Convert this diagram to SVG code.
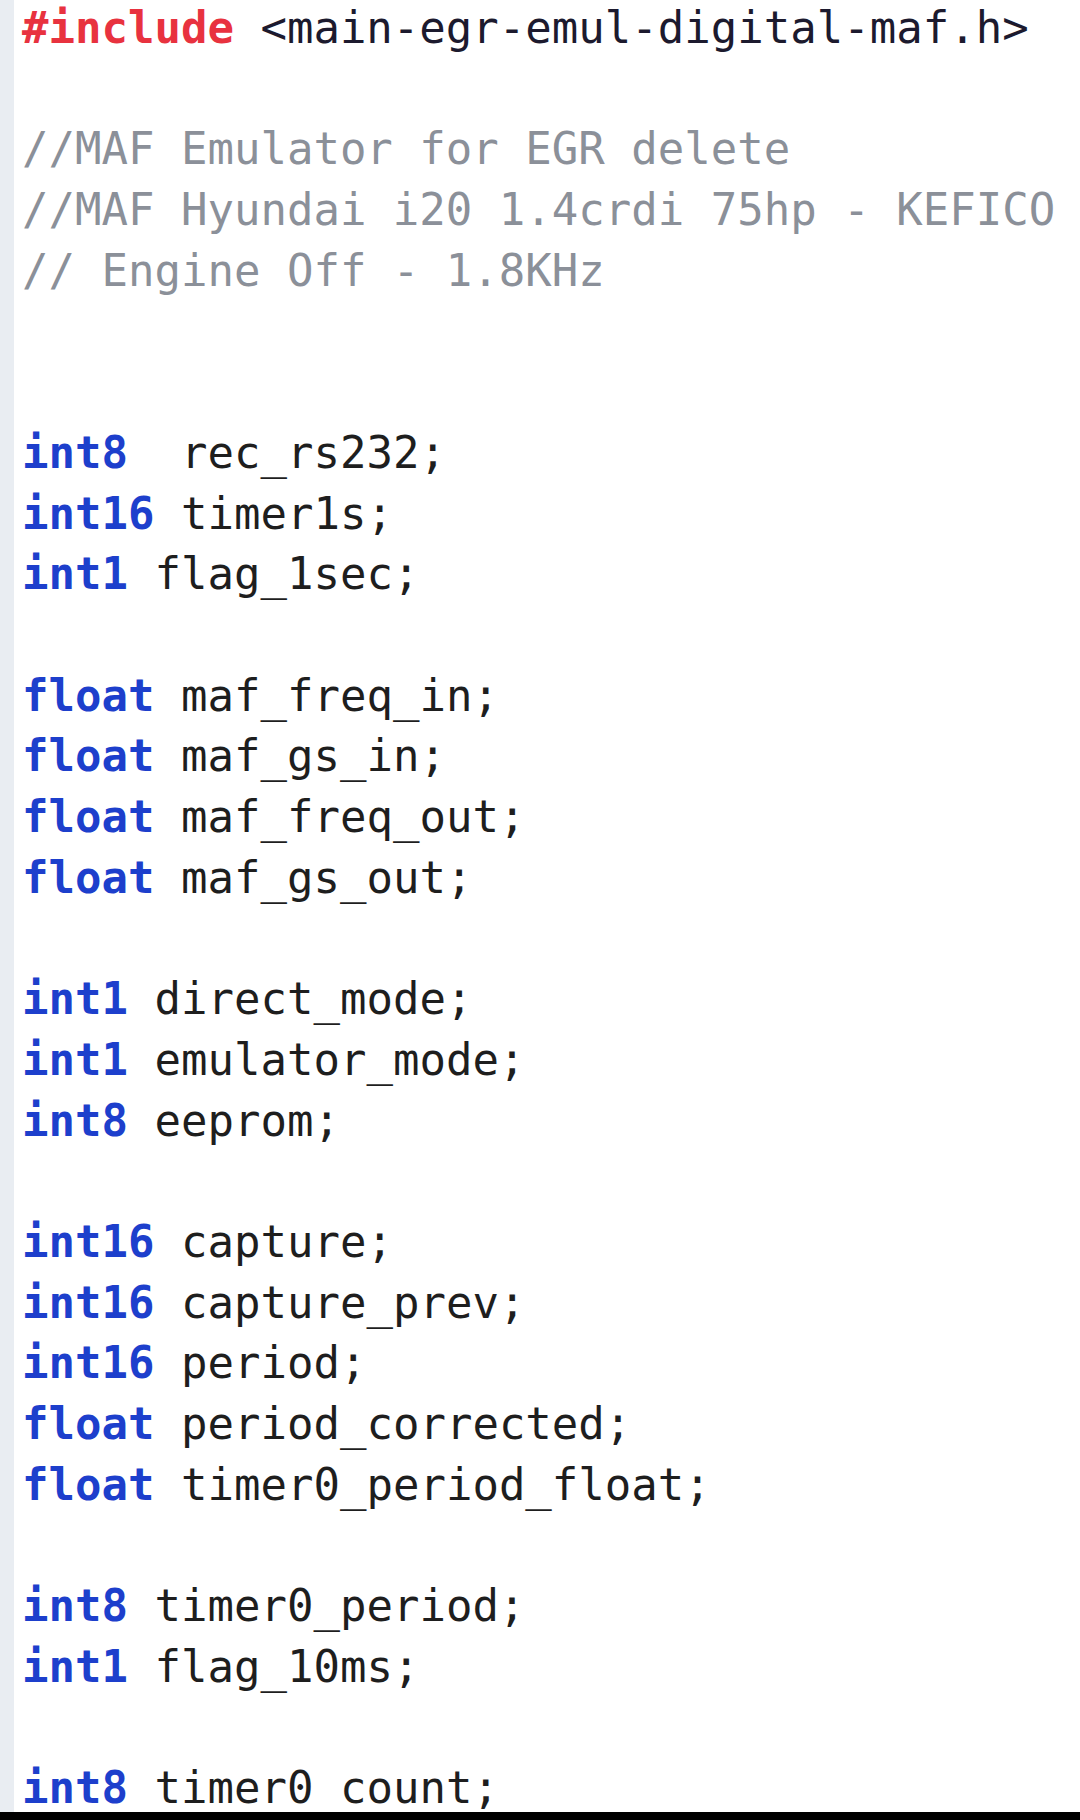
<svg xmlns="http://www.w3.org/2000/svg" width="1080" height="1820" viewBox="0 0 1080 1820">
<style>
text{font-family:"DejaVu Sans Mono","Liberation Mono",monospace;font-size:44px;white-space:pre}
.pp{fill:#e8323f;font-weight:bold}
.hd{fill:#1c1a2e}
.cm{fill:#8b9099}
.kw{fill:#1d3fcc;font-weight:bold}
.id{fill:#1e1e1e}
</style>
<rect x="0" y="0" width="1080" height="1820" fill="#ffffff"/>
<rect x="0" y="0" width="14" height="1820" fill="#e9edf2"/>
<g id="code">
<text x="22" y="43" xml:space="preserve"><tspan class="pp">#include</tspan><tspan class="hd"> &lt;main-egr-emul-digital-maf.h&gt;</tspan></text>
<text x="22" y="164.4" class="cm" xml:space="preserve">//MAF Emulator for EGR delete</text>
<text x="22" y="225.1" class="cm" xml:space="preserve">//MAF Hyundai i20 1.4crdi 75hp - KEFICO</text>
<text x="22" y="285.8" class="cm" xml:space="preserve">// Engine Off - 1.8KHz</text>
<text x="22" y="467.9" xml:space="preserve"><tspan class="kw">int8</tspan><tspan class="id" x="181">rec_rs232;</tspan></text>
<text x="22" y="528.6" xml:space="preserve"><tspan class="kw">int16</tspan><tspan class="id" x="181">timer1s;</tspan></text>
<text x="22" y="589.3" xml:space="preserve"><tspan class="kw">int1</tspan><tspan class="id" x="154.5">flag_1sec;</tspan></text>
<text x="22" y="710.7" xml:space="preserve"><tspan class="kw">float</tspan><tspan class="id" x="181">maf_freq_in;</tspan></text>
<text x="22" y="771.4" xml:space="preserve"><tspan class="kw">float</tspan><tspan class="id" x="181">maf_gs_in;</tspan></text>
<text x="22" y="832.1" xml:space="preserve"><tspan class="kw">float</tspan><tspan class="id" x="181">maf_freq_out;</tspan></text>
<text x="22" y="892.8" xml:space="preserve"><tspan class="kw">float</tspan><tspan class="id" x="181">maf_gs_out;</tspan></text>
<text x="22" y="1014.2" xml:space="preserve"><tspan class="kw">int1</tspan><tspan class="id" x="154.5">direct_mode;</tspan></text>
<text x="22" y="1074.9" xml:space="preserve"><tspan class="kw">int1</tspan><tspan class="id" x="154.5">emulator_mode;</tspan></text>
<text x="22" y="1135.6" xml:space="preserve"><tspan class="kw">int8</tspan><tspan class="id" x="154.5">eeprom;</tspan></text>
<text x="22" y="1257" xml:space="preserve"><tspan class="kw">int16</tspan><tspan class="id" x="181">capture;</tspan></text>
<text x="22" y="1317.7" xml:space="preserve"><tspan class="kw">int16</tspan><tspan class="id" x="181">capture_prev;</tspan></text>
<text x="22" y="1378.4" xml:space="preserve"><tspan class="kw">int16</tspan><tspan class="id" x="181">period;</tspan></text>
<text x="22" y="1439.1" xml:space="preserve"><tspan class="kw">float</tspan><tspan class="id" x="181">period_corrected;</tspan></text>
<text x="22" y="1499.8" xml:space="preserve"><tspan class="kw">float</tspan><tspan class="id" x="181">timer0_period_float;</tspan></text>
<text x="22" y="1621.2" xml:space="preserve"><tspan class="kw">int8</tspan><tspan class="id" x="154.5">timer0_period;</tspan></text>
<text x="22" y="1681.9" xml:space="preserve"><tspan class="kw">int1</tspan><tspan class="id" x="154.5">flag_10ms;</tspan></text>
<text x="22" y="1803.3" xml:space="preserve"><tspan class="kw">int8</tspan><tspan class="id" x="154.5">timer0_count;</tspan></text>
</g>
<rect x="0" y="1812" width="1080" height="8" fill="#000000"/>
</svg>
